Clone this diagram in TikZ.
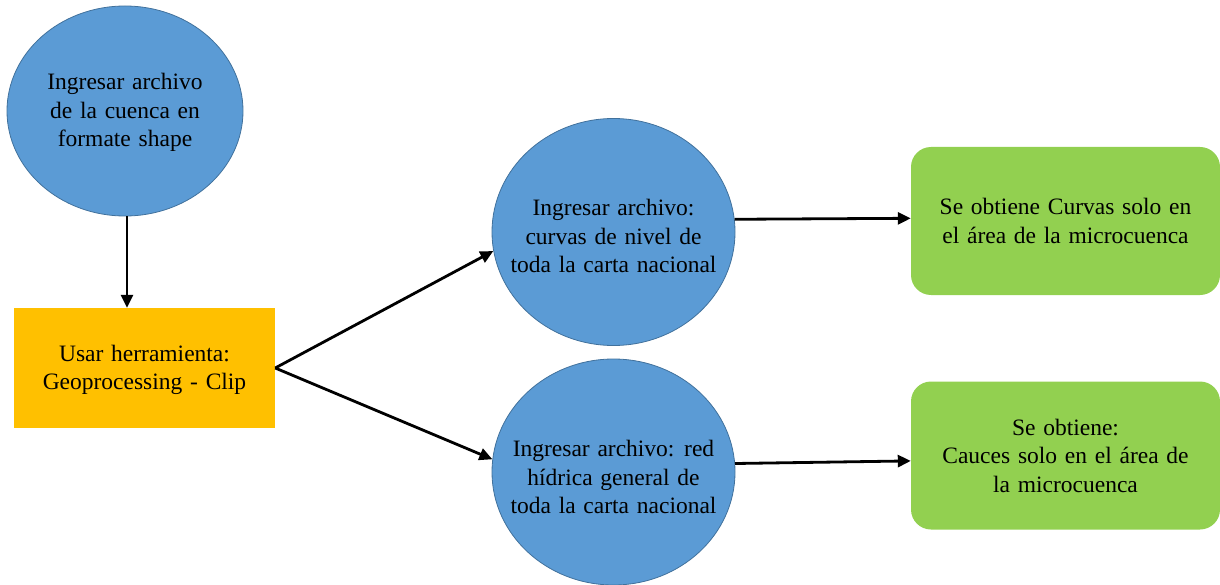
\documentclass[tikz,border=0pt]{standalone}
\usepackage{fontspec}
\setmainfont{Liberation Serif}
\usetikzlibrary{shapes.geometric,arrows.meta}
\definecolor{ovalblue}{HTML}{5B9BD5}
\definecolor{ovalline}{HTML}{41719C}
\definecolor{toolyellow}{HTML}{FFC000}
\definecolor{resultgreen}{HTML}{92D050}
% label font: Times-like, with slightly wide word spaces
\newcommand{\flowfont}{\fontsize{23.5}{28.5}\selectfont\spaceskip=0.33em\relax}
\tikzset{
  txt/.style={font=\flowfont, align=center, text=black, inner sep=0pt},
  oval/.style={ellipse, draw=ovalline, line width=0.8pt, fill=ovalblue, inner sep=0pt},
  toolbox/.style={txt, rectangle, fill=toolyellow, minimum width=261pt, minimum height=120pt},
  resultbox/.style={txt, rectangle, rounded corners=20pt, fill=resultgreen, minimum width=309pt, minimum height=148pt},
  flow/.style={line width=2.8pt, -{Triangle[length=13pt,width=12pt]}},
}
\begin{document}
\begin{tikzpicture}[x=1pt, y=-1pt]
\useasboundingbox (0,0) rectangle (1220,585);

% input ovals, sized independently of their text
\node[oval, minimum width=236pt, minimum height=210pt] (shape) at (125,111) {};
\node[txt] (shapetext) at ([yshift=-1.5pt]shape.center)
  {Ingresar archivo\\de la cuenca en\\formate shape};
\node[oval, minimum width=243pt, minimum height=227pt] (curvas) at (613.5,232) {};
\node[txt] (curvastext) at ([yshift=-4pt]curvas.center)
  {Ingresar archivo:\\curvas de nivel de\\toda la carta nacional};
\node[oval, minimum width=243pt, minimum height=226pt] (red) at (613.5,472) {};
\node[txt] (redtext) at ([yshift=-5pt]red.center)
  {Ingresar archivo: red\\hídrica general de\\toda la carta nacional};

% tool
\node[toolbox] (clip) at (144.5,368) {};
\node[txt] (cliptext) at ([yshift=-2pt]clip.center) {Usar herramienta:\\Geoprocessing - Clip};

% results
\node[resultbox] (rcurvas) at (1065.5,221) {Se obtiene Curvas solo en\\el área de la microcuenca};
\node[resultbox] (rcauces) at (1065.5,455.5) {Se obtiene:\\Cauces solo en el área de\\la microcuenca};

% connectors
\draw[flow] (shape.south -| 127,0) -- (clip.north -| 127,0);
\draw[flow] (clip.east) -- (curvas.189);
\draw[flow] (clip.east) -- (red.174);
\draw[flow] (curvas.6) -- (rcurvas.179);
\draw[flow] (red.4) -- (rcauces.182);
\end{tikzpicture}
\end{document}
